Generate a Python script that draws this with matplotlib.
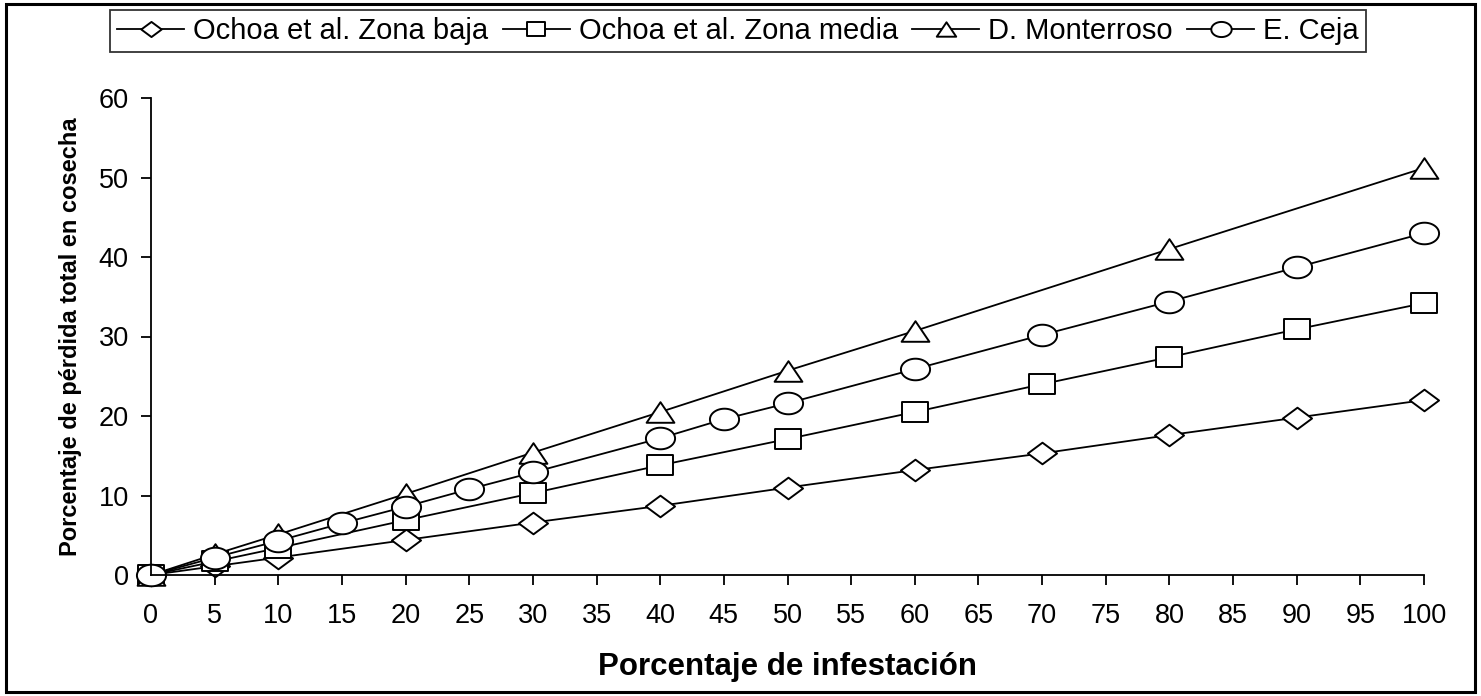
import numpy as np
import matplotlib
matplotlib.use("Agg")
import matplotlib.pyplot as plt
from matplotlib.path import Path
from matplotlib.patches import Rectangle

# datos
x_baja = [0, 5, 10, 20, 30, 40, 50, 60, 70, 80, 90, 100]
y_baja = [0, 1.1, 2.2, 4.4, 6.6, 8.7, 11.0, 13.2, 15.3, 17.6, 19.8, 22.0]

x_media = [0, 5, 10, 20, 30, 40, 50, 60, 70, 80, 90, 100]
y_media = [0, 1.7, 3.4, 6.9, 10.3, 13.8, 17.1, 20.5, 24.0, 27.4, 30.9, 34.2]

x_mont = [0, 5, 10, 20, 30, 40, 50, 60, 80, 100]
y_mont = [0, 2.6, 5.1, 10.2, 15.4, 20.5, 25.7, 30.7, 41.0, 51.2]

x_ceja = [0, 5, 10, 15, 20, 25, 30, 40, 45, 50, 60, 70, 80, 90, 100]
y_ceja = [0, 2.2, 4.3, 6.5, 8.6, 10.8, 12.9, 17.2, 19.6, 21.6, 25.9, 30.2, 34.4, 38.7, 43.0]

labels = ["Ochoa et al. Zona baja", "Ochoa et al. Zona media",
          "D. Monterroso", "E. Ceja"]
x_ticks = list(range(0, 101, 5))
y_ticks = [0, 10, 20, 30, 40, 50, 60]

plt.rcParams['font.family'] = ['Liberation Sans', 'DejaVu Sans']

# marcadores algo achatados, como en el original
sx = 1.35
t = np.linspace(0, 2 * np.pi, 60)
m_circ = Path(np.column_stack([sx * np.cos(t), np.sin(t)]), closed=True)
m_sq = Path([(-sx, -1), (sx, -1), (sx, 1), (-sx, 1), (-sx, -1)], closed=True)
m_dia = Path([(0, -1), (sx, 0), (0, 1), (-sx, 0), (0, -1)], closed=True)
m_tri = Path([(-sx, -1), (sx, -1), (0, 1), (-sx, -1)], closed=True)

fig = plt.figure(figsize=(14.81, 6.96), dpi=100)
ax = fig.add_axes([151 / 1481, 1 - 575 / 696, 1273 / 1481, 477 / 696])

series = [
    (x_baja, y_baja, m_dia, 21),
    (x_media, y_media, m_sq, 19),
    (x_mont, y_mont, m_tri, 20),
    (x_ceja, y_ceja, m_circ, 21),
]
handles = []
for (xs, ys, mk, ms), lab in zip(series, labels):
    h, = ax.plot(xs, ys, color='black', linewidth=1.3, marker=mk,
                 markersize=ms, markerfacecolor='white',
                 markeredgecolor='black', markeredgewidth=1.4,
                 label=lab, clip_on=False)
    handles.append(h)

ax.set_xlim(0, 100)
ax.set_ylim(0, 60)
ax.set_xticks(x_ticks)
ax.set_yticks(y_ticks)
ax.spines['top'].set_visible(False)
ax.spines['right'].set_visible(False)
ax.spines['left'].set_linewidth(1.3)
ax.spines['bottom'].set_linewidth(1.3)
ax.tick_params(axis='both', direction='out', length=7, width=1.3,
               labelsize=19.5)
ax.tick_params(axis='x', pad=13)
ax.tick_params(axis='y', pad=9)

ax.set_xlabel('Porcentaje de infestación', fontsize=22.5, fontweight='bold',
              labelpad=17)
ax.set_ylabel('Porcentaje de pérdida total en cosecha', fontsize=17,
              fontweight='bold', labelpad=12)

leg = fig.legend(handles=handles, labels=labels, ncol=4,
                 loc='center', bbox_to_anchor=(738 / 1481, 1 - 31 / 696),
                 fontsize=21, frameon=True, fancybox=False,
                 handlelength=2.3, handletextpad=0.3, columnspacing=0.5,
                 borderpad=0.25, borderaxespad=0, markerscale=0.7)
leg.get_frame().set_edgecolor('black')
leg.get_frame().set_linewidth(1.3)

# borde exterior
fig.patches.append(Rectangle((6 / 1481, 4 / 696), 1469 / 1481, 688 / 696,
                             transform=fig.transFigure, fill=False,
                             edgecolor='black', linewidth=2.2))

fig.savefig('out.png', dpi=100, facecolor='white')
